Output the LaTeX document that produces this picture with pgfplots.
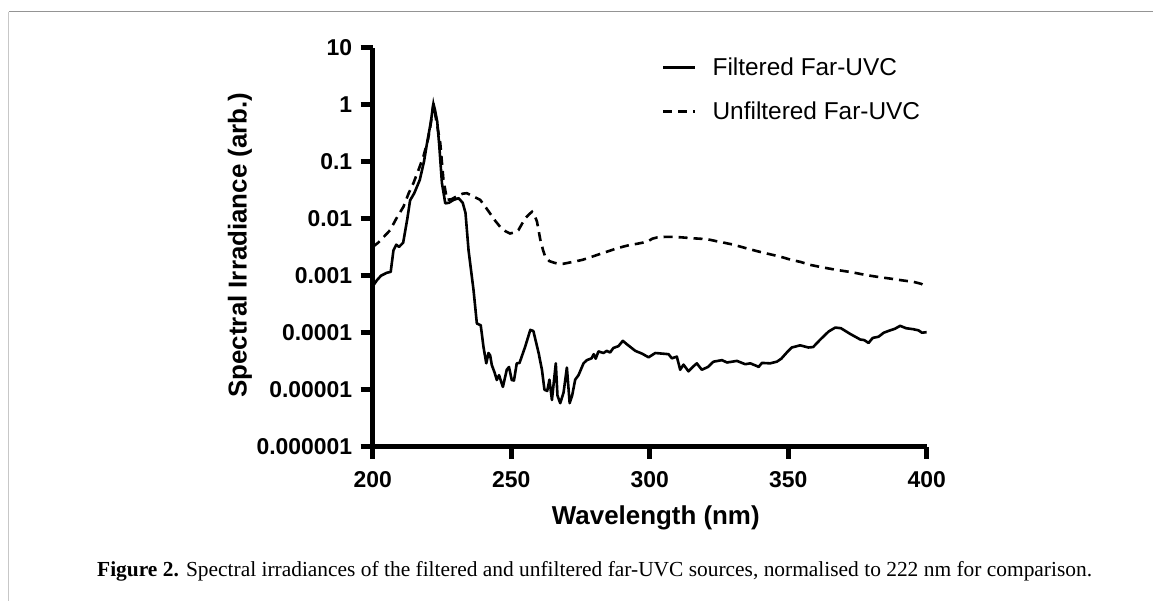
\documentclass[border=0pt]{standalone}
\usepackage{fontspec}
\setmainfont{Liberation Sans}
\newfontfamily\capfont{Liberation Serif}
\usepackage{pgfplots}
\pgfplotsset{compat=1.18}
\pgfplotstableread{
x y
200 6.5e-4
201.5 8.3e-4
203 1.0e-3
205 1.12e-3
206.5 1.17e-3
207.5 2.8e-3
208.5 3.5e-3
209.5 3.2e-3
211 3.8e-3
212.5 0.01
213.5 0.021
215 0.028
217 0.048
218.5 0.1
219.6 0.21
221 0.5
221.9 1.05
222.5 0.8
223.3 0.5
224 0.2
225 0.042
226.2 0.0186
227.5 0.019
229.2 0.0214
231 0.0229
232.5 0.019
233.5 0.0126
234.6 2.8e-3
236.4 5.6e-4
237.6 1.45e-4
239 1.35e-4
240 5.6e-5
241 2.9e-5
241.8 4.4e-5
242.4 4.0e-5
243 2.7e-5
244 2.0e-5
244.8 1.48e-5
245.6 1.8e-5
247 1.12e-5
248.4 2.24e-5
249.2 2.5e-5
250.2 1.48e-5
251 1.45e-5
252 2.9e-5
253 2.95e-5
255 5.6e-5
256.9 1.12e-4
258 1.07e-4
259.9 4.4e-5
261.1 2.24e-5
262 1.0e-5
263 9.5e-6
263.8 1.5e-5
264.7 6.6e-6
266.1 2.9e-5
266.7 7.9e-6
267.7 5.8e-6
268.9 8.9e-6
270.1 2.45e-5
271.1 5.8e-6
272 7.9e-6
273.1 1.5e-5
274.3 1.8e-5
276.1 2.9e-5
277.3 3.3e-5
279 3.55e-5
279.8 4.2e-5
280.5 3.5e-5
281.5 4.7e-5
283.3 4.4e-5
284.5 4.8e-5
285.7 4.5e-5
286.9 5.4e-5
288.7 5.8e-5
290.3 7.2e-5
291.7 6.3e-5
294.8 4.8e-5
297.2 4.3e-5
299.6 3.7e-5
302 4.4e-5
304.4 4.3e-5
306.8 4.2e-5
308 3.55e-5
309.8 3.8e-5
311 2.24e-5
312.2 2.75e-5
314 2.1e-5
315.5 2.5e-5
317 2.9e-5
318.8 2.24e-5
321 2.5e-5
323 3.1e-5
326.1 3.3e-5
327.9 3.0e-5
331.5 3.2e-5
334.5 2.8e-5
336.3 2.9e-5
338.7 2.6e-5
339.3 2.5e-5
340.5 2.95e-5
343.5 2.9e-5
345.9 3.1e-5
347.5 3.5e-5
349.5 4.5e-5
351.3 5.5e-5
354.3 6.0e-5
357.3 5.5e-5
359 5.6e-5
361.6 7.6e-5
364.6 1.05e-4
367 1.23e-4
369 1.2e-4
372.4 9.5e-5
376 7.6e-5
377.5 7.4e-5
379 6.6e-5
380.5 8.1e-5
382.6 8.5e-5
384.5 1.0e-4
386.8 1.1e-4
388.5 1.17e-4
390.4 1.32e-4
392.5 1.2e-4
395.2 1.15e-4
397 1.1e-4
398.3 1.0e-4
400 1.02e-4
}\filtered
\pgfplotstableread{
x y
200 3.2e-3
202 3.8e-3
204 4.8e-3
206.3 6.3e-3
208.5 0.01
211.1 0.0162
213 0.028
214.7 0.042
216.5 0.071
218.3 0.123
220 0.25
220.8 0.41
221.9 1.0
222.5 0.7
223.4 0.4
224.4 0.21
225.5 0.05
226.8 0.0214
228.5 0.022
230.5 0.025
232.5 0.0275
234 0.028
236 0.025
238.8 0.0214
240.5 0.0166
242.4 0.0123
244.3 9.1e-3
246 7.2e-3
248 6.0e-3
249.6 5.5e-3
251.2 5.75e-3
252.6 6.3e-3
254 8.3e-3
255.1 0.0102
256.5 0.012
257.5 0.0132
258.5 0.0112
259.3 8.9e-3
260.5 4.3e-3
261.5 2.8e-3
262.3 2.14e-3
263.8 1.8e-3
265.3 1.7e-3
267 1.62e-3
268.9 1.62e-3
271 1.7e-3
273.1 1.78e-3
275.8 1.9e-3
278.5 2.1e-3
281.5 2.35e-3
284.5 2.63e-3
287.5 2.95e-3
290.5 3.24e-3
293 3.47e-3
295.4 3.63e-3
297.5 3.8e-3
299.6 4.07e-3
301 4.47e-3
302.6 4.68e-3
305.6 4.8e-3
308.6 4.8e-3
311.6 4.7e-3
314.6 4.57e-3
317.6 4.47e-3
320.7 4.37e-3
323.7 4.07e-3
326.7 3.8e-3
329.7 3.55e-3
332.7 3.24e-3
335.7 2.95e-3
338.7 2.7e-3
341.5 2.5e-3
344.7 2.3e-3
348 2.1e-3
351 1.9e-3
354.5 1.74e-3
357.9 1.55e-3
362 1.41e-3
367.6 1.26e-3
373 1.15e-3
378.4 1.02e-3
382.5 9.5e-4
386.8 8.9e-4
391 8.3e-4
395.2 7.8e-4
398 7.2e-4
400 6.5e-4
}\unfiltered
\begin{document}
\begin{tikzpicture}[x=1bp,y=1bp]
\useasboundingbox (0,0) rectangle (1153,601);
\draw[line width=1.3bp, color=black!42] (8.5,589.3) -- (1153,589.3);
\draw[line width=1.5bp, color=black!22] (8.5,0) -- (8.5,589.3);
\node[anchor=base west, inner sep=0pt, font=\capfont\fontsize{21.5}{21.5}\selectfont] at (97,24) {\textbf{Figure 2.} Spectral irradiances of the filtered and unfiltered far-UVC sources, normalised to 222 nm for comparison.};
\begin{axis}[
  at={(372.7bp,154.3bp)}, anchor=south west,
  scale only axis, width=554bp, height=399bp,
  ymode=log, xmin=200, xmax=400, ymin=1e-6, ymax=10,
  axis x line*=bottom, axis y line*=left,
  every outer x axis line/.append style={line width=4.6bp, -},
  every outer y axis line/.append style={line width=4.6bp, -},
  axis line style={line width=4.6bp, -},
  every tick/.style={line width=4.6bp, black},
  every major tick/.style={line width=4.6bp, black},
  tick align=outside, major tick length=12bp,
  xminorticks=false, yminorticks=false,
  xtick={200,250,300,350,400},
  xticklabels={200,250,300,350,400},
  ytick={1e-6,1e-5,1e-4,1e-3,1e-2,1e-1,1,10},
  yticklabels={0.000001,0.00001,0.0001,0.001,0.01,0.1,1,10},
  tick label style={font=\fontsize{23}{23}\selectfont\bfseries},
  xticklabel style={yshift=-9bp},
  yticklabel style={xshift=-5bp},
  xlabel={Wavelength (nm)},
  ylabel={Spectral Irradiance (arb.)},
  label style={font=\fontsize{26}{26}\selectfont\bfseries},
  xlabel style={at={(axis description cs:0.511,-0.196)}, anchor=base},
  ylabel style={at={(axis description cs:-0.2274,0.5055)}, anchor=base},
  legend style={at={(axis description cs:0.5222,0.972)}, anchor=north west,
    draw=none, fill=none, inner sep=0pt, outer sep=0pt,
    font=\fontsize{24.5}{24.5}\selectfont, row sep=27bp,
    nodes={inner sep=0pt, text height=17bp, text depth=0bp}},
  legend cell align=left,
  legend image code/.code={\draw[#1] (0bp,0bp) -- (32bp,0bp); \path (48bp,0bp);},
]
\addplot[black, line width=2.6bp, line join=round] table[x=x,y=y]{\filtered};
\addlegendentry{Filtered Far-UVC}
\addplot[black, line width=2.6bp, dash pattern=on 9bp off 6bp] table[x=x,y=y]{\unfiltered};
\addlegendentry{Unfiltered Far-UVC}
\end{axis}
\end{tikzpicture}
\end{document}
